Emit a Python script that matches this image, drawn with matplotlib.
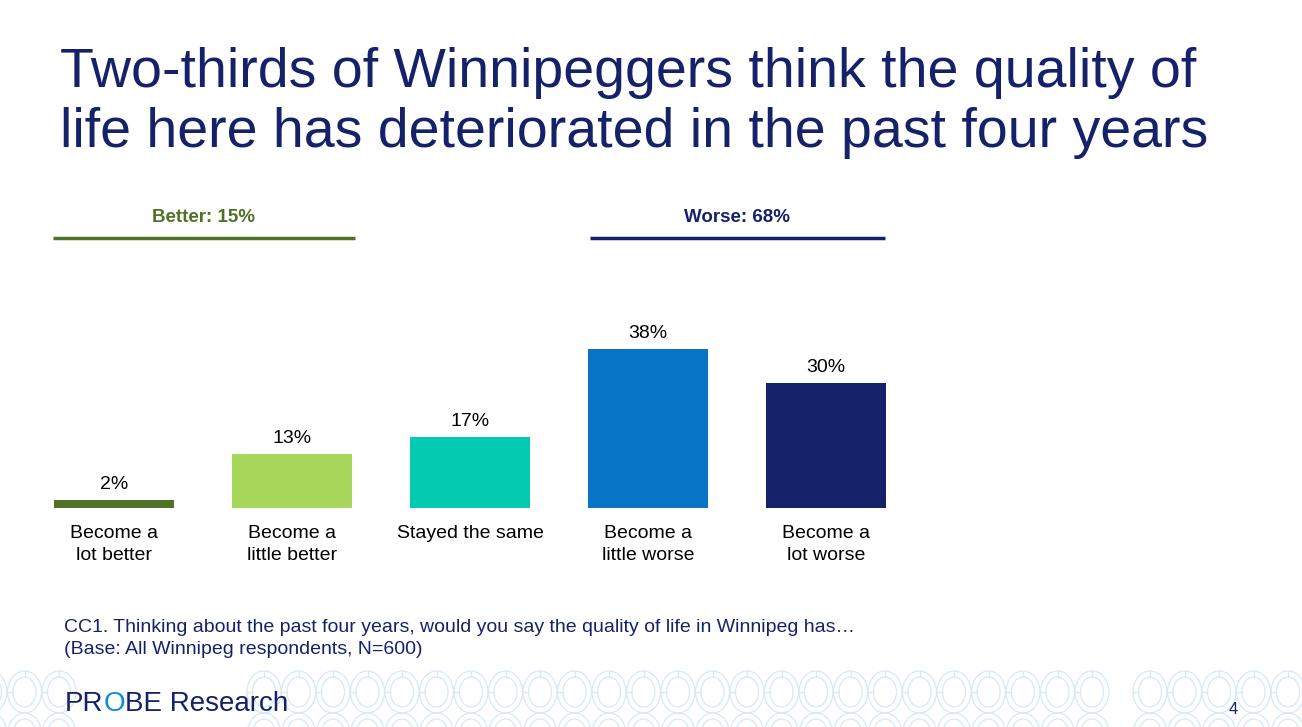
import matplotlib.pyplot as plt
from matplotlib.patches import Ellipse
import numpy as np

plt.rcParams['font.family'] = ['Liberation Sans', 'DejaVu Sans']

# data
categories = ['Become a\nlot better', 'Become a\nlittle better', 'Stayed the same',
              'Become a\nlittle worse', 'Become a\nlot worse']
values = [2, 13, 17, 38, 30]
colors = ['#4E7326', '#A6D75B', '#03CBB1', '#0874C5', '#15226A']
groups = ['Better: 15%', 'Worse: 68%']
group_colors = ['#4E7326', '#15226A']
navy = '#15226A'

W, H = 1302, 727
fig = plt.figure(figsize=(W / 100, H / 100), dpi=100)

# decorative ring pattern along the bottom
deco = fig.add_axes([0, 0, 1, 1], zorder=-5)
deco.set_xlim(0, W)
deco.set_ylim(H, 0)
deco.axis('off')
ring_col = '#D6E9F6'
xs = list(np.arange(-10, 60, 34.5)) + list(np.arange(264, 1100, 34.5)) + list(np.arange(1150, 1320, 34.5))
for cx in xs:
    for cy in (692, 734):
        deco.add_patch(Ellipse((cx, cy), 34, 42, fill=False, ec=ring_col, lw=0.9))
        deco.add_patch(Ellipse((cx, cy), 23, 30, fill=False, ec=ring_col, lw=0.9))
    deco.plot([cx, cx], [671, 677], color=ring_col, lw=0.9)
    deco.plot([cx - 17, cx - 12], [692, 692], color=ring_col, lw=0.9)

# title
fig.text(60 / W, 1 - 87 / H, 'Two-thirds of Winnipeggers think the quality of',
         fontsize=40, color=navy, va='baseline', ha='left')
fig.text(60 / W, 1 - 147 / H, 'life here has deteriorated in the past four years',
         fontsize=40, color=navy, va='baseline', ha='left')

# bars
ax = fig.add_axes([25 / W, (H - 508) / H, 890 / W, 188 / H])
x = np.arange(len(values))
ax.bar(x, values, width=0.674, color=colors)
ax.set_xlim(-0.5, 4.5)
ax.set_ylim(0, 45)
ax.axis('off')
for xi, v in zip(x, values):
    ax.annotate(f'{v}%', (xi, v), xytext=(0, 5), textcoords='offset points',
                ha='center', va='bottom', fontsize=14, color='black')
for xi, lab in zip(x, categories):
    ax.annotate(lab, (xi, 0), xytext=(0, -12.5), textcoords='offset points',
                ha='center', va='top', fontsize=14, color='black', linespacing=1.36)

# group headers
fig.text(204 / W, 1 - 218 / H, groups[0], fontsize=13.5, fontweight='bold',
         color=group_colors[0], ha='center', va='center')
fig.text(737 / W, 1 - 218 / H, groups[1], fontsize=13.5, fontweight='bold',
         color=group_colors[1], ha='center', va='center')
deco.plot([53, 355], [238, 238], color=group_colors[0], lw=2.5, solid_capstyle='butt')
deco.plot([590, 885], [238, 238], color=group_colors[1], lw=2.5, solid_capstyle='butt')

# footnote
fig.text(64 / W, 1 - 627 / H,
         'CC1. Thinking about the past four years, would you say the quality of life in Winnipeg has\u2026',
         fontsize=14, color=navy, va='center', ha='left')
fig.text(64 / W, 1 - 649 / H, '(Base: All Winnipeg respondents, N=600)',
         fontsize=14, color=navy, va='center', ha='left')

# logo
t1 = fig.text(65 / W, 1 - 704 / H, 'PR', fontsize=20, color=navy, va='center', ha='left')
fig.canvas.draw()
r = fig.canvas.get_renderer()
bb = t1.get_window_extent(r)
t2 = fig.text(bb.x1 / W, 1 - 704 / H, 'O', fontsize=20, color='#0A8AD8', va='center', ha='left')
bb2 = t2.get_window_extent(r)
fig.text(bb2.x1 / W, 1 - 704 / H, 'BE Research', fontsize=20, color=navy, va='center', ha='left')

fig.text(1233 / W, 1 - 709 / H, '4', fontsize=12, color=navy, va='center', ha='center')

fig.savefig('out.png', dpi=100)
